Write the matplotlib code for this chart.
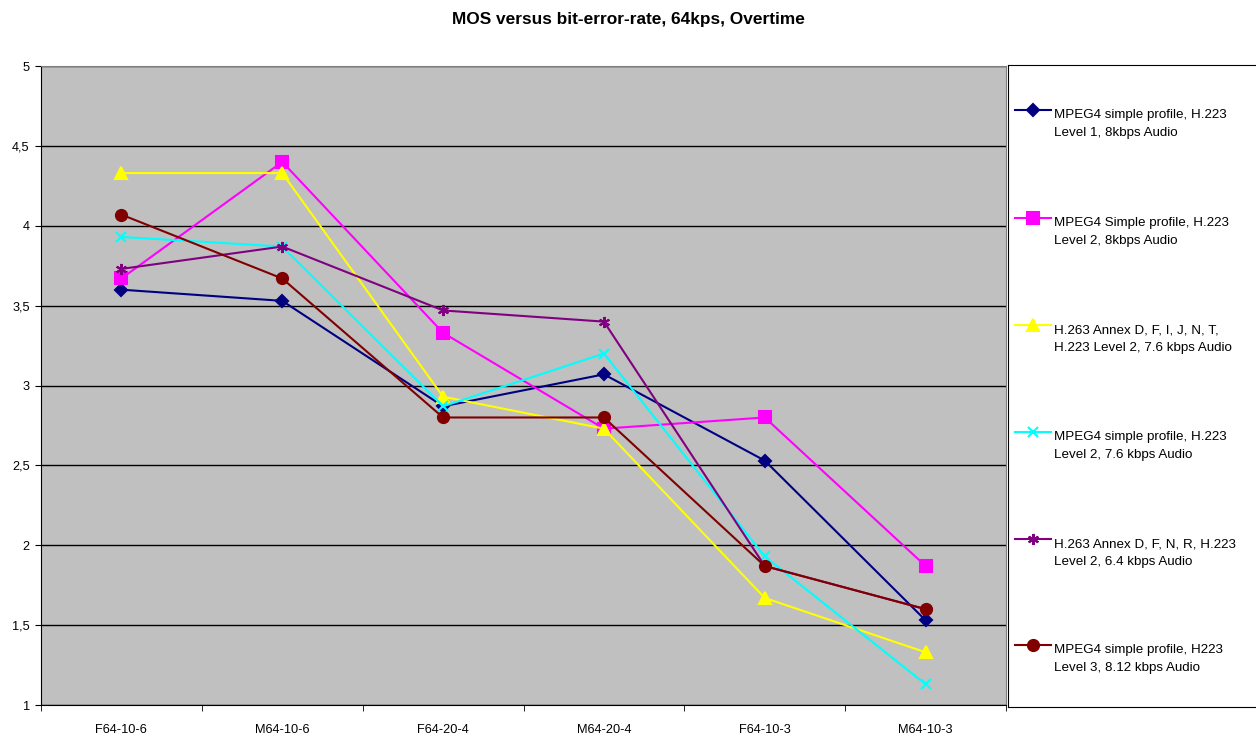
import matplotlib.pyplot as plt
from matplotlib.ticker import FuncFormatter, FixedLocator

plt.rcParams['font.family'] = ['Liberation Sans', 'DejaVu Sans']

categories = ['F64-10-6', 'M64-10-6', 'F64-20-4', 'M64-20-4', 'F64-10-3', 'M64-10-3']

mpeg4_l1_8k = [3.60, 3.53, 2.87, 3.07, 2.53, 1.53]
mpeg4_l2_8k = [3.67, 4.40, 3.33, 2.73, 2.80, 1.87]
h263_dfijnt = [4.33, 4.33, 2.93, 2.73, 1.67, 1.33]
mpeg4_l2_76k = [3.93, 3.87, 2.87, 3.20, 1.93, 1.13]
h263_dfnr = [3.73, 3.87, 3.47, 3.40, 1.87, 1.60]
mpeg4_l3_812k = [4.07, 3.67, 2.80, 2.80, 1.87, 1.60]

labels = [
    'MPEG4 simple profile, H.223\nLevel 1, 8kbps Audio',
    'MPEG4 Simple profile, H.223\nLevel 2, 8kbps Audio',
    'H.263 Annex D, F, I, J, N, T,\nH.223 Level 2, 7.6 kbps Audio',
    'MPEG4 simple profile, H.223\nLevel 2, 7.6 kbps Audio',
    'H.263 Annex D, F, N, R, H.223\nLevel 2, 6.4 kbps Audio',
    'MPEG4 simple profile, H223\nLevel 3, 8.12 kbps Audio',
]

series = [mpeg4_l1_8k, mpeg4_l2_8k, h263_dfijnt, mpeg4_l2_76k, h263_dfnr, mpeg4_l3_812k]
colors = ['#000080', '#FF00FF', '#FFFF00', '#00FFFF', '#800080', '#800000']
markers = ['D', 's', '^', 'x', (6, 2, 0), 'o']
msizes = [6, 8, 8, 7, 8, 8]

fig = plt.figure(figsize=(12.56, 7.37), dpi=100)
ax = fig.add_axes([0.0326, 0.0434, 0.7684, 0.867])
ax.set_facecolor('#C0C0C0')

x = list(range(len(categories)))
for vals, c, m, ms in zip(series, colors, markers, msizes):
    ax.plot(x, vals, color=c, marker=m, markersize=ms, lw=1.5,
            markeredgewidth=1.5, zorder=3)

ax.set_xlim(-0.5, len(categories) - 0.5)
ax.set_ylim(1, 5)
ax.set_yticks([1, 1.5, 2, 2.5, 3, 3.5, 4, 4.5, 5])
ax.yaxis.set_major_formatter(FuncFormatter(lambda v, p: ('%g' % v).replace('.', ',')))
ax.grid(axis='y', color='black', lw=1, zorder=1)
ax.set_axisbelow(True)

ax.set_xticks(x)
ax.set_xticklabels(categories)
ax.xaxis.set_minor_locator(FixedLocator([i - 0.5 for i in range(len(categories) + 1)]))
ax.tick_params(axis='x', which='major', length=0, pad=14, labelsize=9.2)
ax.tick_params(axis='x', which='minor', length=4, direction='out')
ax.tick_params(axis='y', length=4, direction='out', labelsize=9.2, pad=4)

for s in ['top', 'right']:
    ax.spines[s].set_color('#808080')
for s in ['left', 'bottom']:
    ax.spines[s].set_color('black')

fig.text(0.5, 0.984, 'MOS versus bit-error-rate, 64kps, Overtime',
         ha='center', va='top', fontsize=12.4, fontweight='bold')

# legend box drawn by hand so the entries sit where Excel put them
lax = fig.add_axes([0.8025, 0.0407, 0.21, 0.8711])
lax.set_xlim(0, 1)
lax.set_ylim(737 - 707, 737 - 65)
lax.set_xticks([])
lax.set_yticks([])
for s in lax.spines.values():
    s.set_color('black')
ypos = [110, 218, 325, 432, 539, 645]
for lbl, c, m, ms, yp in zip(labels, colors, markers, msizes, ypos):
    yy = 737 - yp
    lax.plot([0.027, 0.095, 0.163], [yy, yy, yy], color=c, marker=m, markersize=ms,
             lw=1.5, markeredgewidth=1.5, markevery=[1])
    lax.text(0.176, yy + 1, lbl, ha='left', va='top', fontsize=9.6, linespacing=1.65)

fig.savefig('out.png', dpi=100)
